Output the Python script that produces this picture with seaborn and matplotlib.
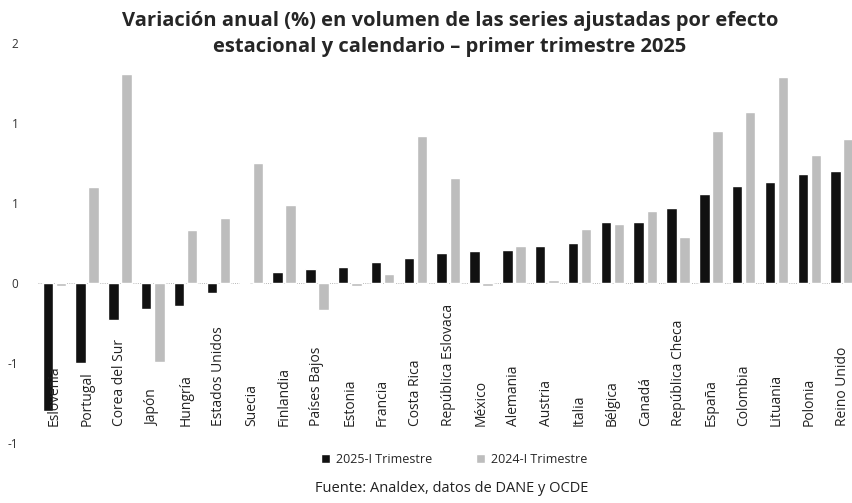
import pandas as pd
import matplotlib
matplotlib.use("Agg")
import matplotlib.pyplot as plt
import matplotlib.transforms as mtransforms
import seaborn as sns

# Data (annual variation, %)
paises = ["Eslovenia", "Portugal", "Corea del Sur", "Japón", "Hungría", "Estados Unidos",
          "Suecia", "Finlandia", "Países Bajos", "Estonia", "Francia", "Costa Rica",
          "República Eslovaca", "México", "Alemania", "Austria", "Italia", "Bélgica",
          "Canadá", "República Checa", "España", "Colombia", "Lituania", "Polonia",
          "Reino Unido"]
t2025 = [-0.80, -0.50, -0.23, -0.16, -0.14, -0.06, 0.00, 0.07, 0.09, 0.10, 0.13, 0.16,
         0.19, 0.20, 0.21, 0.23, 0.25, 0.38, 0.38, 0.47, 0.56, 0.61, 0.63, 0.68, 0.70]
t2024 = [-0.02, 0.60, 1.31, -0.49, 0.33, 0.41, 0.75, 0.49, -0.17, -0.02, 0.06, 0.92,
         0.66, -0.02, 0.23, 0.02, 0.34, 0.37, 0.45, 0.29, 0.95, 1.07, 1.29, 0.80, 0.90]
series = ["2025-I Trimestre", "2024-I Trimestre"]
yticks = [-1, -0.5, 0, 0.5, 1, 1.5]
ytick_labels = ["-1", "-1", "0", "1", "1", "2"]  # as printed in the source (0 decimals)

df = pd.DataFrame({
    "pais": paises * 2,
    "serie": [series[0]] * len(paises) + [series[1]] * len(paises),
    "valor": t2025 + t2024,
})

sns.set_theme(style="white")
plt.rcParams["font.family"] = ["Open Sans", "DejaVu Sans"]

fig = plt.figure(figsize=(8.52, 5.03), dpi=100)
ax = fig.add_axes([0.0445, 0.119, 0.9555, 0.795])

sns.barplot(data=df, x="pais", y="valor", hue="serie", order=paises, hue_order=series,
            palette={series[0]: "#111111", series[1]: "#bdbdbd"},
            width=0.8, gap=0.2, saturation=1, ax=ax, legend=True)

ax.axhline(0, color="#a0a0a0", lw=0.6, ls=":", zorder=0)
ax.set_ylim(-1, 1.5)
ax.set_xlim(-0.5, 24.3)
ax.set_yticks(yticks)
ax.set_yticklabels(ytick_labels, fontsize=8.5, color="#333333")
ax.tick_params(axis="y", length=0, pad=14)
ax.set_xticks([])
ax.set_xlabel("")
ax.set_ylabel("")
sns.despine(ax=ax, left=True, bottom=True)

# country labels inside the plot area, reading upward
trans = mtransforms.blended_transform_factory(ax.transData, ax.transAxes)
for i, p in enumerate(paises):
    ax.text(i, 0.044, p, rotation=90, ha="center", va="bottom", fontsize=10,
            color="#222222", transform=trans)

handles, labels = ax.get_legend_handles_labels()
ax.get_legend().remove()
fig.legend(handles, labels, loc="center", bbox_to_anchor=(0.533, 0.086), ncol=2,
           frameon=False, fontsize=9, handlelength=0.7, handleheight=0.7,
           columnspacing=3.5, handletextpad=0.5)

fig.text(0.528, 0.978, "Variación anual (%) en volumen de las series ajustadas por efecto\n"
         "estacional y calendario – primer trimestre 2025",
         ha="center", va="top", fontsize=14.5, fontweight="bold", linespacing=1.4,
         family=["Open Sans", "DejaVu Sans"])
fig.text(0.53, 0.028, "Fuente: Analdex, datos de DANE y OCDE", ha="center", va="center",
         fontsize=10.5, color="#222222")

fig.savefig("out.png", dpi=100)
